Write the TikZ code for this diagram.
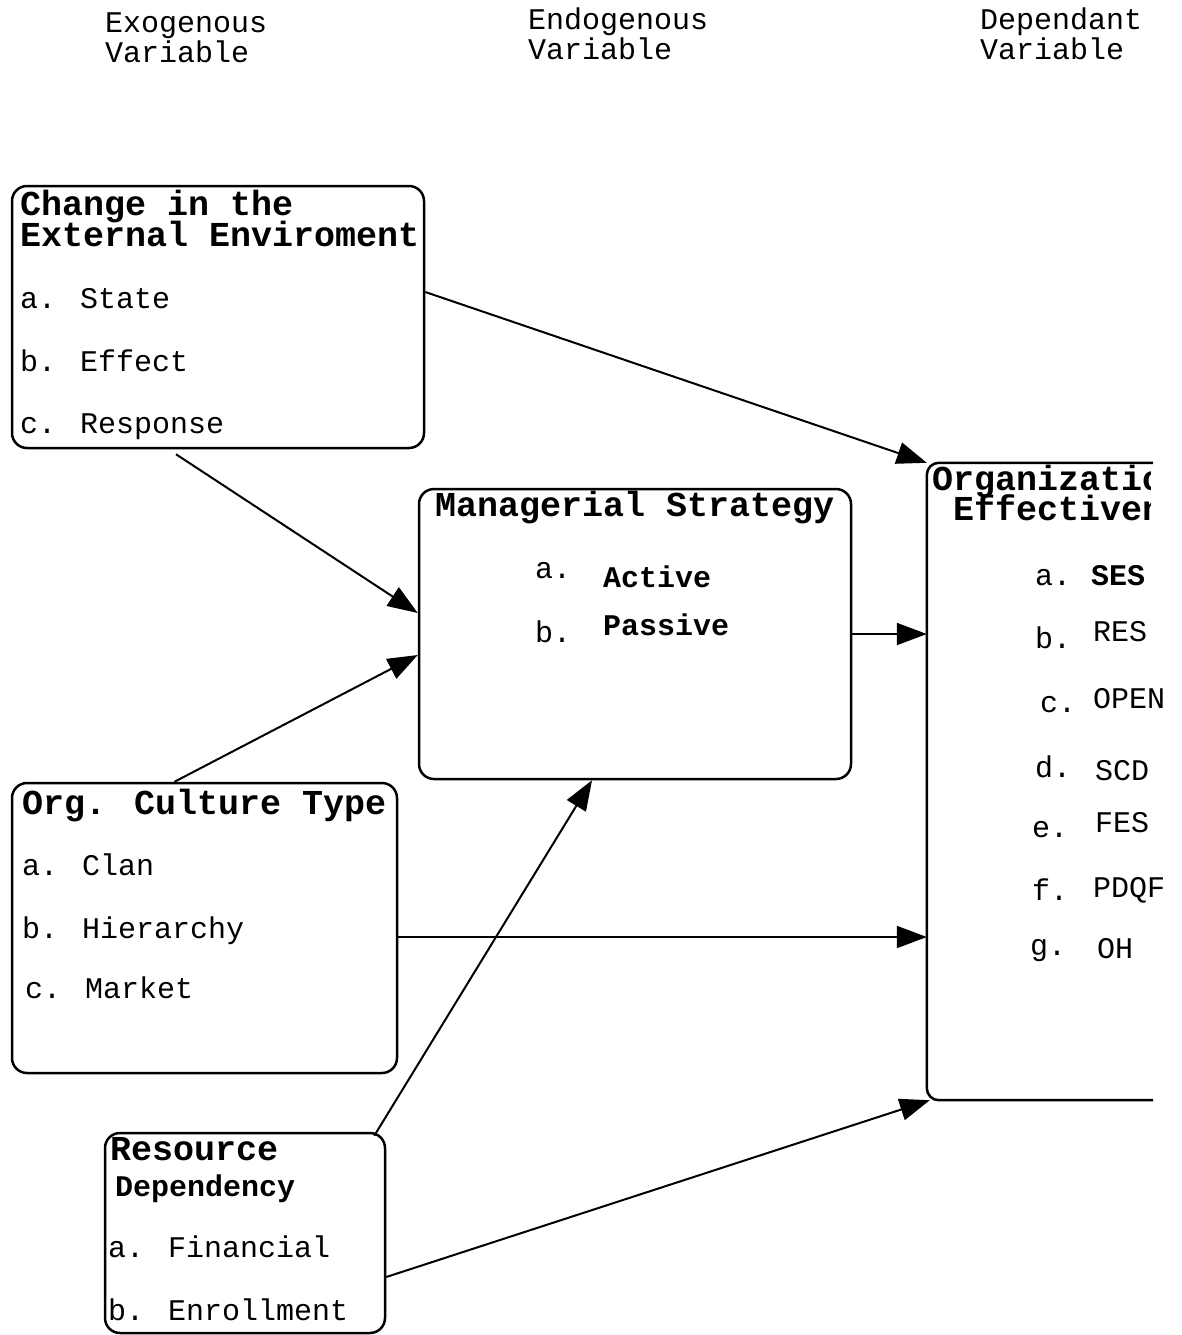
\documentclass[tikz,border=0pt]{standalone}
\usepackage{fontspec}
\setmainfont{Liberation Mono}
\usetikzlibrary{arrows.meta}
\tikzset{>={Triangle[length=30pt,width=22pt]}}
\tikzset{box/.style={draw, line width=2.5pt, rounded corners=15pt, inner sep=0pt},
	txt/.style={anchor=base west, inner sep=0pt, font=\fontsize{30}{30}\selectfont},
	ttl/.style={txt, font=\fontsize{35}{35}\selectfont\bfseries},
	link/.style={->, line width=2pt}}

\begin{document}
\begin{tikzpicture}[x=1pt,y=-1pt]
\useasboundingbox (0,0) rectangle (1181,1335);

	\node[txt] (exo1) at (105,33){Exogenous};
	\node[txt] (exo2) at (105,63){Variable};
	\node[txt] (endo1) at (528,30){Endogenous};
	\node[txt] (endo2) at (528,60){Variable};
	\node[txt] (dep1) at (980,30){Dependant};
	\node[txt] (dep2) at (980,60){Variable};

% boxes
\node[box, minimum width=412pt, minimum height=262pt] (env) at (218,317){};
\node[box, minimum width=432pt, minimum height=290pt] (strat) at (635,634){};
\node[box, minimum width=385pt, minimum height=290pt] (cult) at (204.5,928){};
\node[box, minimum width=280pt, minimum height=200pt] (res) at (245,1233){};
\node[inner sep=0pt, minimum width=226pt, minimum height=637pt] (eff) at (1040,781.5){};
\draw[line width=2.5pt, rounded corners=12pt] (eff.north east) -- (eff.north west) -- (eff.south west) -- (eff.south east);

	\node[ttl] (envt1) at (20,215){Change in the};
	\node[ttl] (envt2) at (20,246){External Enviroment};
	\node[txt] (enva) at (20,308){a. State};
	\node[txt] (envb) at (20,371){b. Effect};
	\node[txt] (envc) at (20,433){c. Response};

	\node[ttl] (stratt) at (435,516){Managerial Strategy};
	\node[txt] (strata) at (535,578){a.};
	\node[txt, font=\fontsize{30}{30}\selectfont\bfseries] (strata2) at (603,587){Active};
	\node[txt] (stratb) at (535,642){b.};
	\node[txt, font=\fontsize{30}{30}\selectfont\bfseries] (stratb2) at (603,635){Passive};

	\node[ttl] (cultt) at (22,814){Org. Culture Type};
	\node[txt] (culta) at (22,875){a. Clan};
	\node[txt] (cultb) at (22,938){b. Hierarchy};
	\node[txt] (cultc) at (25,998){c. Market};

	\node[ttl] (rest1) at (110,1160){Resource};
	\node[txt, font=\fontsize{30}{30}\selectfont\bfseries] (rest2) at (115,1196){Dependency};
	\node[txt] (resa) at (108,1257){a. Financial};
	\node[txt] (resb) at (108,1320){b. Enrollment};

\begin{scope}
	\clip (900,440) rectangle (1150,540);
	\node[ttl] (efft1) at (932,490){Organizational};
	\node[ttl] (efft2) at (953,520){Effectiveness};
\end{scope}
	\node[txt] (effa) at (1035,585){a.};
	\node[txt, font=\fontsize{30}{30}\selectfont\bfseries] (effa2) at (1091,585){SES};
	\node[txt] (effb) at (1035,648){b.};
	\node[txt] (effb2) at (1093,641){RES};
	\node[txt] (effc) at (1040,712){c.};
	\node[txt] (effc2) at (1093,708){OPEN};
	\node[txt] (effd) at (1035,777){d.};
	\node[txt] (effd2) at (1095,780){SCD};
	\node[txt] (effe) at (1032,837){e.};
	\node[txt] (effe2) at (1095,832){FES};
	\node[txt] (efff) at (1032,900){f.};
	\node[txt] (efff2) at (1093,897){PDQF};
	\node[txt] (effg) at (1030,955){g.};
	\node[txt] (effg2) at (1097,958){OH};

% links
\draw[link] ([yshift=25pt]env.east) -- (eff.north west);
\draw[link] ([xshift=-42pt,yshift=-5pt]env.south) -- ([yshift=21pt]strat.west);
\draw[link] ([xshift=-30pt]cult.north) -- ([yshift=-21pt]strat.west);
\draw[link] (strat.east) -- (strat.east -| eff.west);
\draw[link] ([yshift=-9pt]cult.east) -- ([yshift=-9pt]cult.east -| eff.west);
\draw[link] ([xshift=-12pt,yshift=-4pt]res.north east) -- ([xshift=-43pt]strat.south);
\draw[link] ([yshift=-44pt]res.east) -- ([xshift=3pt]eff.south west);
\end{tikzpicture}
\end{document}
